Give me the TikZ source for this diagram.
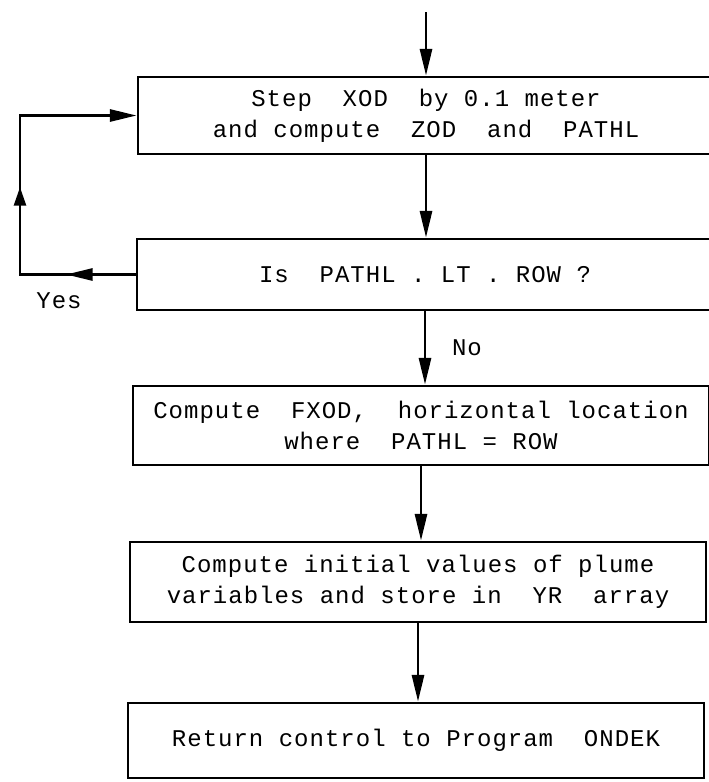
\documentclass[tikz,border=0pt]{standalone}
\usepackage{fontspec}
\newfontfamily\tw{Liberation Mono}[LetterSpace=4.2]
\usetikzlibrary{arrows.meta,decorations.markings}
\begin{document}
\begin{tikzpicture}[x=0.75pt,y=-0.75pt,
  line width=2.1pt,
  tip/.style={-{Triangle[length=20pt,width=9pt]}},
  stepbox/.style={draw, minimum width=432pt, align=center, inner sep=0pt,
    font=\tw\fontsize{18}{23}\selectfont},
  lbl/.style={inner sep=0pt, font=\tw\fontsize{18}{23}\selectfont}]
\useasboundingbox (0,0) rectangle (709,782);
\node[stepbox, minimum height=57.75pt] (b1) at (426,115.5)
  {Step~~XOD~~by 0.1 meter\\and compute~~ZOD~~and~~PATHL};
\node[stepbox, minimum height=53.25pt] (b2) at (425,274.5)
  {Is~~PATHL . LT . ROW ?};
\node[stepbox, minimum height=59.25pt] (b3) at (421,425.5)
  {Compute~~FXOD,~~horizontal location\\where~~PATHL = ROW};
\node[stepbox, minimum height=60pt] (b4) at (418,582)
  {Compute initial values of plume\\variables and store in~~YR~~array};
\node[stepbox, minimum height=56.25pt] (b5) at (416,740.5)
  {Return control to Program~~ONDEK};
\node[lbl] (yes) at (59,301) {Yes};
\node[lbl] (no) at (467,348) {No};
\coordinate (top) at (426,12);
\coordinate (yl) at (20,274.5);
\coordinate (ul) at (20,115.5);
\draw[tip] (top) -- (b1.north);
\draw[tip] (b1.south) -- (b1.south |- b2.north);
\draw[tip] (b2.south) -- (b2.south |- b3.north);
\draw[tip] (b3.south) -- (b3.south |- b4.north);
\draw[tip] (b4.south) -- (b4.south |- b5.north);
\draw[tip] (b2.west) -- (yl) -- (ul) -- (b1.west);
\draw[decoration={markings,
   mark=at position 0.178 with {\arrow{Triangle[length=20pt,width=9pt]}},
   mark=at position 0.519 with {\arrow{Triangle[length=14pt,width=9pt]}}},
   decorate] (b2.west) -- (yl) -- (ul) -- (b1.west);
\end{tikzpicture}
\end{document}
